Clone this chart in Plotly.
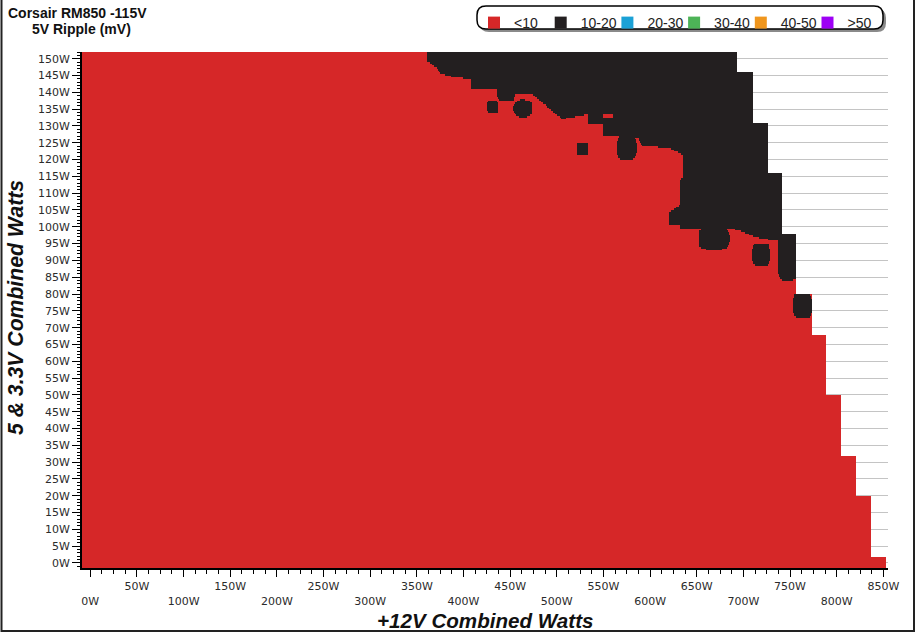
import numpy as np
import plotly.graph_objects as go

# ---------------- text ----------------
title_main = "Corsair RM850 -115V"
title_sub = "5V Ripple (mV)"
x_title = "+12V Combined Watts"
y_title = "5 & 3.3V Combined Watts"

legend_labels = ["&lt;10", "10-20", "20-30", "30-40", "40-50", "&gt;50"]
legend_colors = ["#d62728", "#231f20", "#1ba1d6", "#4db357", "#f0961d", "#9d00f5"]

x_tick_vals = list(range(0, 851, 50))
y_tick_step = 5

# ---------------- data (watts) ----------------
# outer envelope of the tested loads: band upper edge (+5/3.3V W) -> max +12V W
env_y_top = [152.0, 146.0, 130.9, 116.0, 98.1, 80.2, 68.1, 49.9, 32.1, 20.2, 2.0]
env_x_max = [693, 710, 726, 742, 757, 774, 789, 805, 821, 837, 853]
env_y_bottom = -1.5

# outline of the main 10-20 mV zone
zone_x = [360.8, 868.0, 868.0, 742.5, 728.6, 712.5, 699.6, 685.7, 645.0, 632.1, 632.1,
          620.4, 620.4, 624.6, 632.1, 632.1, 635.4, 635.4, 621.4, 591.4, 587.1, 562.5,
          549.6, 549.6, 533.6, 533.6, 530.4, 505.7, 474.6, 455.4, 453.2, 439.3, 436.1,
          436.1, 408.2, 408.2, 405.0, 383.6, 375.0, 371.8, 366.4, 364.3, 360.8]
zone_y = [153.0, 153.0, 96.1, 96.1, 96.1, 97.0, 98.5, 99.7, 99.4, 99.4, 100.5,
          100.5, 104.4, 105.0, 106.5, 114.0, 114.6, 121.4, 123.5, 124.1, 126.5, 126.8,
          126.8, 130.3, 130.3, 133.3, 133.3, 132.0, 139.3, 139.3, 137.5, 137.5, 138.4,
          140.8, 140.8, 143.7, 144.0, 144.9, 145.8, 147.3, 147.9, 148.8, 148.8]

# separate 10-20 mV spots (centre, half width, half height, squareness)
spot_x = [431.3, 463.8, 527.7, 575.2, 668.6, 719.0, 747.3, 763.4]
spot_y = [135.6, 135.2, 123.2, 123.5, 96.5, 91.9, 91.2, 76.7]
spot_w = [5.9, 10.6, 5.9, 10.6, 17.1, 9.6, 10.2, 10.2]
spot_h = [1.8, 2.6, 1.8, 3.6, 3.4, 3.3, 7.0, 3.6]
spot_p = [6, 2.2, 6, 3, 3, 5, 6, 5]

# small <10 mV pocket inside the zone
pocket_x = [549.6, 560.4]
pocket_y = [132.4, 133.6]

# ---------------- grid ----------------
xs = np.arange(-8.5, 855.0, 1.0)
ys = np.arange(env_y_bottom + 0.25, env_y_top[0] + 0.5, 0.5)
XX, YY = np.meshgrid(xs, ys)

xmax = np.full(ys.shape, -1e9)
bands = env_y_top + [env_y_bottom]
for i, xm in enumerate(env_x_max):
    sel = (ys < bands[i]) & (ys >= bands[i + 1])
    xmax[sel] = xm
valid = XX <= xmax[:, None]

inside = np.zeros(XX.shape, dtype=bool)
n = len(zone_x)
for i in range(n):
    x1, y1 = zone_x[i], zone_y[i]
    x2, y2 = zone_x[(i + 1) % n], zone_y[(i + 1) % n]
    if y1 == y2:
        continue
    cond = ((y1 > YY) != (y2 > YY)) & (XX < (x2 - x1) * (YY - y1) / (y2 - y1) + x1)
    inside ^= cond

for cx, cy, w, h, p in zip(spot_x, spot_y, spot_w, spot_h, spot_p):
    inside |= (np.abs(XX - cx) / w) ** p + (np.abs(YY - cy) / h) ** p <= 1.0

pocket = (XX >= pocket_x[0]) & (XX <= pocket_x[1]) & (YY >= pocket_y[0]) & (YY <= pocket_y[1])
inside &= ~pocket

z = np.where(valid, np.where(inside, 2, 1), 0).astype(np.int8)

red, black = legend_colors[0], legend_colors[1]
clear = "rgba(255,255,255,0)"
colorscale = [[0, clear], [1 / 3, clear], [1 / 3, red], [2 / 3, red], [2 / 3, black], [1, black]]

# ---------------- figure ----------------
W, H = 916, 633
ML, MR, MT, MB = 82, 28, 52, 65
PW, PH = W - ML - MR, H - MT - MB


def px(xp):
    return (xp - ML) / PW


def py(yp):
    return (H - MB - yp) / PH


fig = go.Figure()
fig.add_trace(go.Heatmap(x=xs, y=ys, z=z, zmin=0, zmax=2, colorscale=colorscale,
                         showscale=False, hoverinfo="skip", showlegend=False))
for lab, col in zip(legend_labels, legend_colors):
    fig.add_trace(go.Scatter(x=[None], y=[None], mode="markers", name=lab,
                             marker=dict(symbol="square", size=12, color=col),
                             showlegend=True))

tick_font = dict(family="DejaVu Sans, Verdana", size=11, color="#2b2b2b")
x_tick_text = [(f"{v}W" if (v // 50) % 2 == 1 else f" <br>{v}W") for v in x_tick_vals]

fig.update_layout(
    width=W, height=H,
    margin=dict(l=ML, r=MR, t=MT, b=MB, pad=0, autoexpand=False),
    paper_bgcolor="white", plot_bgcolor="white",
    showlegend=True,
    legend=dict(orientation="h", xref="container", yref="container",
                x=474 / W, y=1 - 7 / H, xanchor="left", yanchor="top",
                entrywidth=21.7, entrywidthmode="pixels",
                bgcolor="rgba(0,0,0,0)", borderwidth=0,
                font=dict(family="Arial, Liberation Sans", size=14, color="#222")),
    xaxis=dict(range=[-8.9, 855], tickmode="array", tickvals=x_tick_vals, ticktext=x_tick_text,
               ticks="outside", ticklen=7, tickwidth=1, tickcolor="black",
               showline=True, linecolor="black", linewidth=2, automargin=False,
               showgrid=False, zeroline=False, tickfont=tick_font,
               minor=dict(ticks="outside", tickmode="linear", tick0=0, dtick=12.5,
                          ticklen=4, tickcolor="black", showgrid=False)),
    yaxis=dict(range=[env_y_bottom, env_y_top[0]], tickmode="linear", tick0=0, dtick=y_tick_step,
               ticksuffix="W", ticks="outside", ticklen=8, tickwidth=1, tickcolor="black",
               showline=True, linecolor="black", linewidth=2, automargin=False,
               showgrid=True, gridcolor="#c4c4c4", gridwidth=1, zeroline=False,
               tickfont=tick_font,
               minor=dict(ticks="outside", tickmode="linear", tick0=0, dtick=1,
                          ticklen=3, tickcolor="black", showgrid=False)),
)

title_font = dict(family="Arial, Liberation Sans", size=14, color="#111")
fig.add_annotation(text=f"<b>{title_main}</b>", xref="paper", yref="paper",
                   x=px(6), y=py(13), xanchor="left", yanchor="middle",
                   showarrow=False, font=title_font)
fig.add_annotation(text=f"<b>{title_sub}</b>", xref="paper", yref="paper",
                   x=px(30), y=py(29), xanchor="left", yanchor="middle",
                   showarrow=False, font=title_font)
fig.add_annotation(text=f"<b><i>{x_title}</i></b>", xref="paper", yref="paper",
                   x=px(485), y=py(620), xanchor="center", yanchor="middle",
                   showarrow=False,
                   font=dict(family="Arial, Liberation Sans", size=20.6, color="#111"))
fig.add_annotation(text=f"<b><i>{y_title}</i></b>", xref="paper", yref="paper",
                   x=px(15), y=py(308), xanchor="center", yanchor="middle",
                   textangle=-90, showarrow=False,
                   font=dict(family="Arial, Liberation Sans", size=21.2, color="#111"))


def rounded(x0, y0, x1, y1, r):
    return (f"M {x0 + r},{y1} L {x1 - r},{y1} Q {x1},{y1} {x1},{y1 - r} "
            f"L {x1},{y0 + r} Q {x1},{y0} {x1 - r},{y0} L {x0 + r},{y0} "
            f"Q {x0},{y0} {x0},{y0 + r} L {x0},{y1 - r} Q {x0},{y1} {x0 + r},{y1} Z")


bx0, bx1 = 477 - ML, 883 - ML
by_top, by_bot = MT - 6, MT - 29
common = dict(xref="paper", yref="paper", xsizemode="pixel", ysizemode="pixel",
              xanchor=0, yanchor=1, layer="above")
fig.add_shape(type="path", path=rounded(bx0 + 3, by_bot - 3, bx1 + 3, by_top - 3, 9),
              fillcolor="#8a8a8a", line=dict(width=0), **common)
fig.add_shape(type="path", path=rounded(bx0, by_bot, bx1, by_top, 9),
              fillcolor="white", line=dict(color="black", width=1.5), **common)

# outer frame
fig.add_shape(type="path", xref="paper", yref="paper",
              path=f"M {px(1.5)},{py(0)} L {px(1.5)},{py(631)} L {px(914)},{py(631)} L {px(914)},{py(0)}",
              line=dict(color="#222", width=2), layer="above")

fig.write_html("out.html", config={"displayModeBar": False},
               post_script="document.body.style.margin='0px';")
